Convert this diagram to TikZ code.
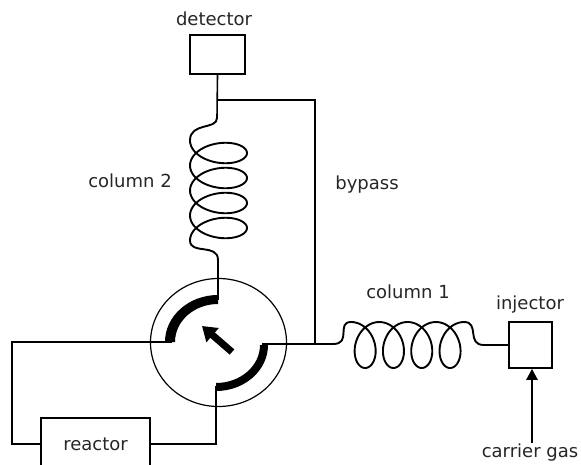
\documentclass[tikz,border=0pt]{standalone}
\usepackage{fontspec}
\setmainfont{DejaVu Sans}
\usetikzlibrary{arrows.meta,shapes.geometric}
\begin{document}
\begin{tikzpicture}[x=1pt,y=-1pt,
  wire/.style={line width=1.6pt,line join=miter},
  coil/.style={line width=1.9pt,line join=round,line cap=round},
  unit/.style={draw,line width=1.6pt,inner sep=0pt},
  label/.style={font=\fontsize{18}{20}\selectfont,inner sep=0pt,text=black!85},
  seal/.style={fill=black,draw=none}]
\clip (0,0) rectangle (581,464);
\fill[white] (0,0) rectangle (581,464);
% units
\node[unit,minimum width=55pt,minimum height=39pt] (detector) at (217.5,54.5) {};
\node[unit,minimum width=43pt,minimum height=46pt] (injector) at (530.5,345) {};
\node[unit,minimum width=109pt,minimum height=52pt,label] (reactor) at (95.5,444) {reactor};
\node[draw,ellipse,line width=1.2pt,inner sep=0pt,minimum width=136pt,minimum height=128pt] (valve) at (218.5,342.5) {};
% labels
\node[label] (ldet) at (214,19) {detector};
\node[label] (lcol2) at (130,181) {column 2};
\node[label] (lby) at (367,185) {bypass};
\node[label] (lcol1) at (408,292) {column 1};
\node[label] (linj) at (530,305) {injector};
\node[label] (lcar) at (530,453) {carrier gas};
% named points
\coordinate (top) at (218,300);
\coordinate (tee) at (217,100);
\coordinate (by) at (315,100);
\coordinate (byin) at (315,344);
\coordinate (right) at (262,344);
\coordinate (left) at (172,342);
\coordinate (bottom) at (216,386);
\coordinate (farl) at (12,342);
\coordinate (farlb) at (12,444);
\coordinate (c2a) at (217,118);
\coordinate (c2b) at (218,260);
\coordinate (c1a) at (333,344);
\coordinate (c1b) at (484,345);
\coordinate (gas) at (532,443);
\coordinate (atail) at (232,352);
\coordinate (ahead) at (202,326);
% rotor seals
\fill[seal] (218,295) arc[start angle=-90,end angle=-180,x radius=53pt,y radius=-47pt]
  -- (175,342) arc[start angle=-180,end angle=-90,x radius=43pt,y radius=-38pt] -- cycle;
\fill[seal] (268,345) arc[start angle=0,end angle=90,x radius=52pt,y radius=-46pt]
  -- (216,383) arc[start angle=90,end angle=0,x radius=44pt,y radius=-38pt] -- cycle;
\draw[line width=7pt,-{Triangle[length=14pt,width=18pt]}] (atail) -- (ahead);
% connectors
\draw[wire] (detector.south) -- (c2a);
\draw[wire] (tee) -- (by) -- (byin);
\draw[wire] (right) -- (c1a);
\draw[wire] (left) -- (farl) -- (farlb) -- (reactor.west);
\draw[wire] (reactor.east) -| (bottom);
\draw[wire] (c2b) -- (top);
\draw[wire] (c1b) -- (injector.west);
\draw[line width=2.2pt,-{Triangle[length=11pt,width=11pt]}] (gas) -- (injector.south -| gas);
% column 2
\draw[coil] (c2a) .. controls (217,130) and (190,122) .. (190,140.5);
\draw[coil,smooth,samples=220,domain=180:1620,variable=\t]
  plot ({218.5+28.5*cos(\t)},{128+\t/360*25-16*sin(\t)});
\draw[coil] (190,240.5) .. controls (190,255) and (218,243) .. (c2b);
% column 1
\draw[coil] (c1a) .. controls (352,344) and (336,322) .. (351,322);
\draw[coil,smooth,samples=220,domain=0:1440,variable=\t]
  plot ({351+\t/360*28.3+17*sin(\t)},{345-23*cos(\t)});
\draw[coil] (464,322) .. controls (480,322) and (466,345) .. (c1b);
\end{tikzpicture}
\end{document}
